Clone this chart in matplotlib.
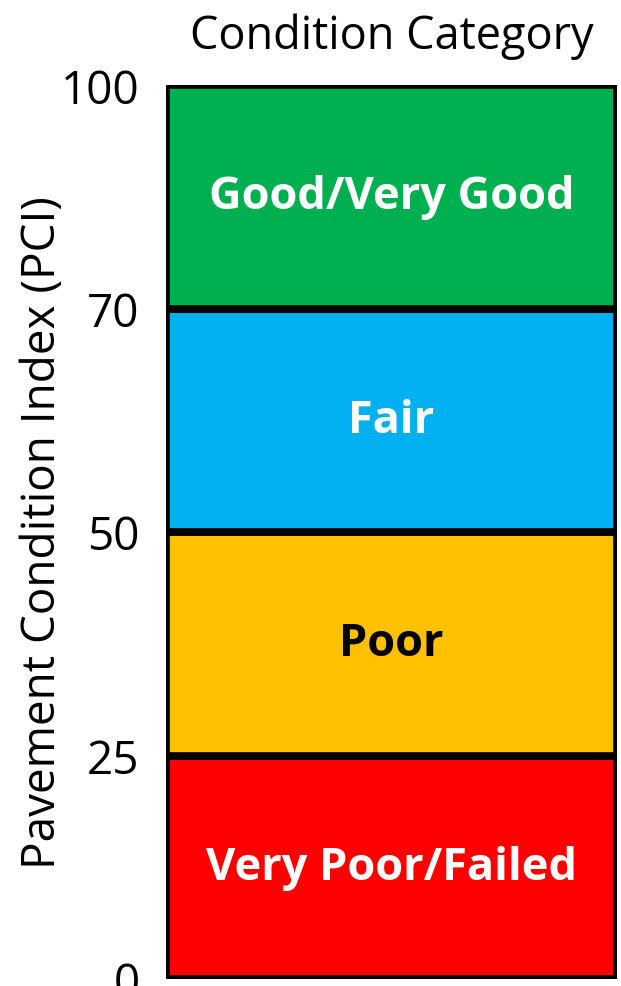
import numpy as np
import matplotlib
matplotlib.use("Agg")
import matplotlib.pyplot as plt

categories = ["Very Poor/Failed", "Poor", "Fair", "Good/Very Good"]
lower_bounds = [0, 25, 50, 70]
upper_bounds = [25, 50, 70, 100]
tick_values = [0, 25, 50, 70, 100]
tick_labels = ["0", "25", "50", "70", "100"]
colors = ["#FF0000", "#FFC000", "#00B0F0", "#00B050"]
text_colors = ["white", "black", "white", "white"]

plt.rcParams['font.family'] = ['Open Sans', 'DejaVu Sans']

fig = plt.figure(figsize=(6.21, 9.87), dpi=100)
ax = fig.add_axes([166/621, 1 - 980/987, (617-166)/621, (980-86)/987])

pos = np.arange(len(tick_values), dtype=float)
fwd = lambda v: np.interp(v, tick_values, pos)
inv = lambda p: np.interp(p, pos, tick_values)
ax.set_yscale('function', functions=(fwd, inv))

for cat, lo, hi, c, tc in zip(categories, lower_bounds, upper_bounds, colors, text_colors):
    ax.bar(0, hi - lo, bottom=lo, width=1.0, color=c, edgecolor='black', linewidth=5.5, zorder=2)
    mid = inv((fwd(lo) + fwd(hi)) / 2)
    ax.text(0, mid, cat, ha='center', va='center', color=tc, fontsize=32.5, fontweight='bold', zorder=3)

ax.set_xlim(-0.5, 0.5)
ax.set_ylim(0, 100)
ax.set_yticks(tick_values)
ax.set_yticklabels(tick_labels, fontsize=33)
ax.tick_params(axis='y', length=0, pad=19)
ax.set_xticks([])
for s in ax.spines.values():
    s.set_visible(False)
ax.set_ylabel("Pavement Condition Index (PCI)", fontsize=33)
ax.yaxis.set_label_coords((66 - 166) / 451, 0.5)
ax.set_title("Condition Category", fontsize=32.5, pad=27)

fig.savefig("out.png", dpi=100)
